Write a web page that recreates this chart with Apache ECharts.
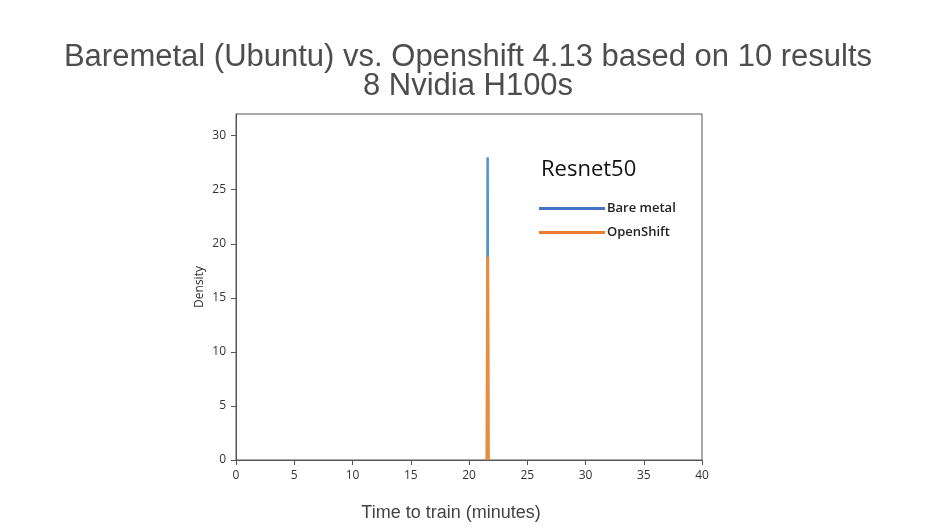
<!DOCTYPE html>
<html><head><meta charset="utf-8">
<script src="https://cdn.jsdelivr.net/npm/echarts@6/dist/echarts.min.js"></script>
<style>html,body{margin:0;padding:0;background:#fff}#c{width:936px;height:528px}</style>
</head><body><div id="c"></div>
<script>
const titleLines = ["Baremetal (Ubuntu) vs. Openshift 4.13 based on 10 results", "8 Nvidia H100s"];
const xAxisTitle = "Time to train (minutes)";
const yAxisTitle = "Density";
const seriesNames = ["Bare metal", "OpenShift"];
const bareTime = [21.55, 21.6, 21.65];
const bareDensity = [0, 28.0, 0];
const osTime = [21.55, 21.6, 21.65];
const osDensity = [0, 18.8, 0];
const xTicks = [0, 5, 10, 15, 20, 25, 30, 35, 40];
const yTicks = [0, 5, 10, 15, 20, 25, 30];
const annotation = "Resnet50";

const chart = echarts.init(document.getElementById('c'), null, {renderer: 'canvas'});
const zip = (a, b) => a.map((v, i) => [v, b[i]]);
chart.setOption({
  animation: false,
  backgroundColor: '#fff',
  title: {
    text: titleLines.join('\n'),
    left: 'center', top: 38,
    textStyle: {fontFamily: 'Liberation Sans', fontSize: 31, fontWeight: 'normal', color: '#4d4d4d', lineHeight: 29}
  },
  grid: {left: 236, top: 114, width: 466, height: 346, show: true, borderColor: '#555', borderWidth: 1},
  xAxis: {
    type: 'value', min: 0, max: 40, interval: 5,
    axisLine: {show: true, onZero: false, lineStyle: {color: '#555'}},
    axisTick: {show: true, length: 5, lineStyle: {color: '#555'}, customValues: xTicks},
    axisLabel: {fontFamily: 'Open Sans', fontSize: 12, color: '#333', margin: 10, customValues: xTicks},
    splitLine: {show: false}
  },
  yAxis: {
    type: 'value', min: 0, max: 32,
    name: yAxisTitle, nameLocation: 'middle', nameGap: 30, nameRotate: 90,
    nameTextStyle: {fontFamily: 'Open Sans', fontSize: 12, color: '#333'},
    axisLine: {show: true, lineStyle: {color: '#555'}},
    axisTick: {show: true, length: 5, lineStyle: {color: '#555'}, customValues: yTicks},
    axisLabel: {fontFamily: 'Open Sans', fontSize: 12, color: '#333', margin: 10, customValues: yTicks},
    splitLine: {show: false}
  },
  legend: {
    orient: 'vertical', left: 534, top: 197, itemGap: 11,
    itemWidth: 66, itemHeight: 3, icon: 'rect',
    data: [
      {name: seriesNames[0], itemStyle: {color: '#4472c4'}},
      {name: seriesNames[1], itemStyle: {color: '#ed7d31'}}
    ],
    textStyle: {fontFamily: 'Open Sans', fontSize: 13, fontWeight: 600, color: '#222', padding: [0, 0, 0, -3]}
  },
  graphic: [
    {type: 'text', left: 541, top: 159,
     style: {text: annotation, fontFamily: 'Open Sans', fontSize: 22, fill: '#111'}},
    {type: 'text', x: 451, y: 513,
     style: {text: xAxisTitle, fontFamily: 'Liberation Sans', fontSize: 18, fill: '#444', align: 'center', verticalAlign: 'middle'}}
  ],
  series: [
    {name: seriesNames[0], type: 'line', data: zip(bareTime, bareDensity), showSymbol: false, symbol: 'none',
     lineStyle: {color: '#4e95cf', width: 2.5}, itemStyle: {color: '#4e95cf'}, z: 2},
    {name: seriesNames[1], type: 'line', data: zip(osTime, osDensity), showSymbol: false, symbol: 'none',
     lineStyle: {color: '#f08a36', width: 3}, itemStyle: {color: '#f08a36'}, z: 3}
  ]
});
</script></body></html>
